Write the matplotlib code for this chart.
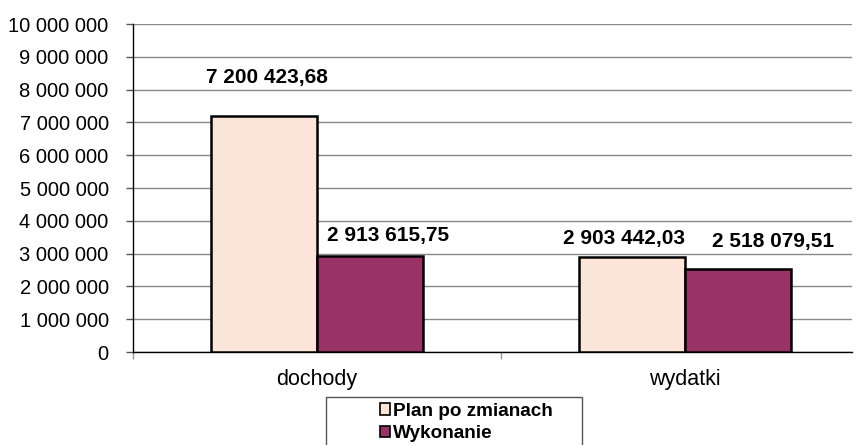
import matplotlib
matplotlib.use("Agg")
import matplotlib.pyplot as plt
from matplotlib.patches import Rectangle
from matplotlib.ticker import FuncFormatter, FixedLocator
import numpy as np

categories = ["dochody", "wydatki"]
series_names = ["Plan po zmianach", "Wykonanie"]
plan = [7200423.68, 2903442.03]
wykonanie = [2913615.75, 2518079.51]
plan_labels = ["7 200 423,68", "2 903 442,03"]
wyk_labels = ["2 913 615,75", "2 518 079,51"]
yticks = list(range(0, 10000001, 1000000))

plt.rcParams['font.family'] = ['Liberation Sans', 'DejaVu Sans']

W, H = 856, 445
fig = plt.figure(figsize=(W/100, H/100), dpi=100)
ax = fig.add_axes([133/W, 1-352/H, (852-133)/W, (352-24)/H])

x = np.arange(len(categories))
bw = 0.288
c_plan = "#FAE5D8"
c_wyk = "#993366"
b1 = ax.bar(x - bw/2, plan, bw, color=c_plan, edgecolor="black", linewidth=1.8, zorder=3, label=series_names[0])
b2 = ax.bar(x + bw/2, wykonanie, bw, color=c_wyk, edgecolor="black", linewidth=1.8, zorder=3, label=series_names[1])

ax.set_xlim(-0.5, 1.4538)
ax.set_ylim(0, 10000000)
ax.yaxis.set_major_locator(FixedLocator(yticks))
ax.yaxis.set_major_formatter(FuncFormatter(lambda v, p: f"{int(v):,}".replace(",", " ")))
ax.grid(axis='y', color='#888888', linewidth=1.0, zorder=0)
ax.set_axisbelow(True)
for s in ["top", "right"]:
    ax.spines[s].set_visible(False)
ax.spines["left"].set_linewidth(1.0)
ax.spines["bottom"].set_linewidth(1.0)
ax.tick_params(axis='y', length=5, width=1, labelsize=14.5, pad=12.5, color='#555555')
ax.set_xticks(x)
ax.set_xticklabels(categories, fontsize=15.5)
ax.tick_params(axis='x', length=0, pad=12)
ax.set_xticks([-0.5, 0.5], minor=True)
ax.tick_params(axis='x', which='minor', length=5, width=1, color='#999999')

# data labels (offsets in points relative to bar top-centre)
plan_off = [(2, 21), (-6, 6)]
wyk_off = [(13, 8), (25, 13)]
for i in range(len(categories)):
    ax.annotate(plan_labels[i], (x[i] - bw/2, plan[i]), xytext=plan_off[i], textcoords='offset points',
                ha='center', va='bottom', fontsize=15, fontweight='bold', zorder=5)
    ax.annotate(wyk_labels[i], (x[i] + bw/2, wykonanie[i]), xytext=wyk_off[i], textcoords='offset points',
                ha='center', va='bottom', fontsize=15, fontweight='bold', zorder=5)

# legend frame
fig.patches.append(Rectangle((326/W, -0.01), (582-326)/W, 1-397/H + 0.01, transform=fig.transFigure,
                             fill=False, edgecolor='#555555', linewidth=1.0))
leg = fig.legend(handles=[b1, b2], labels=series_names, loc='upper left',
                 bbox_to_anchor=(376/W, 1-399/H), frameon=False,
                 prop={'weight': 'bold', 'size': 13.6},
                 handlelength=0.55, handleheight=0.55, handletextpad=0.15,
                 labelspacing=0.3, borderpad=0.2, borderaxespad=0)
for h in leg.legend_handles:
    h.set_linewidth(1.2)

fig.savefig("out.png", dpi=100)
